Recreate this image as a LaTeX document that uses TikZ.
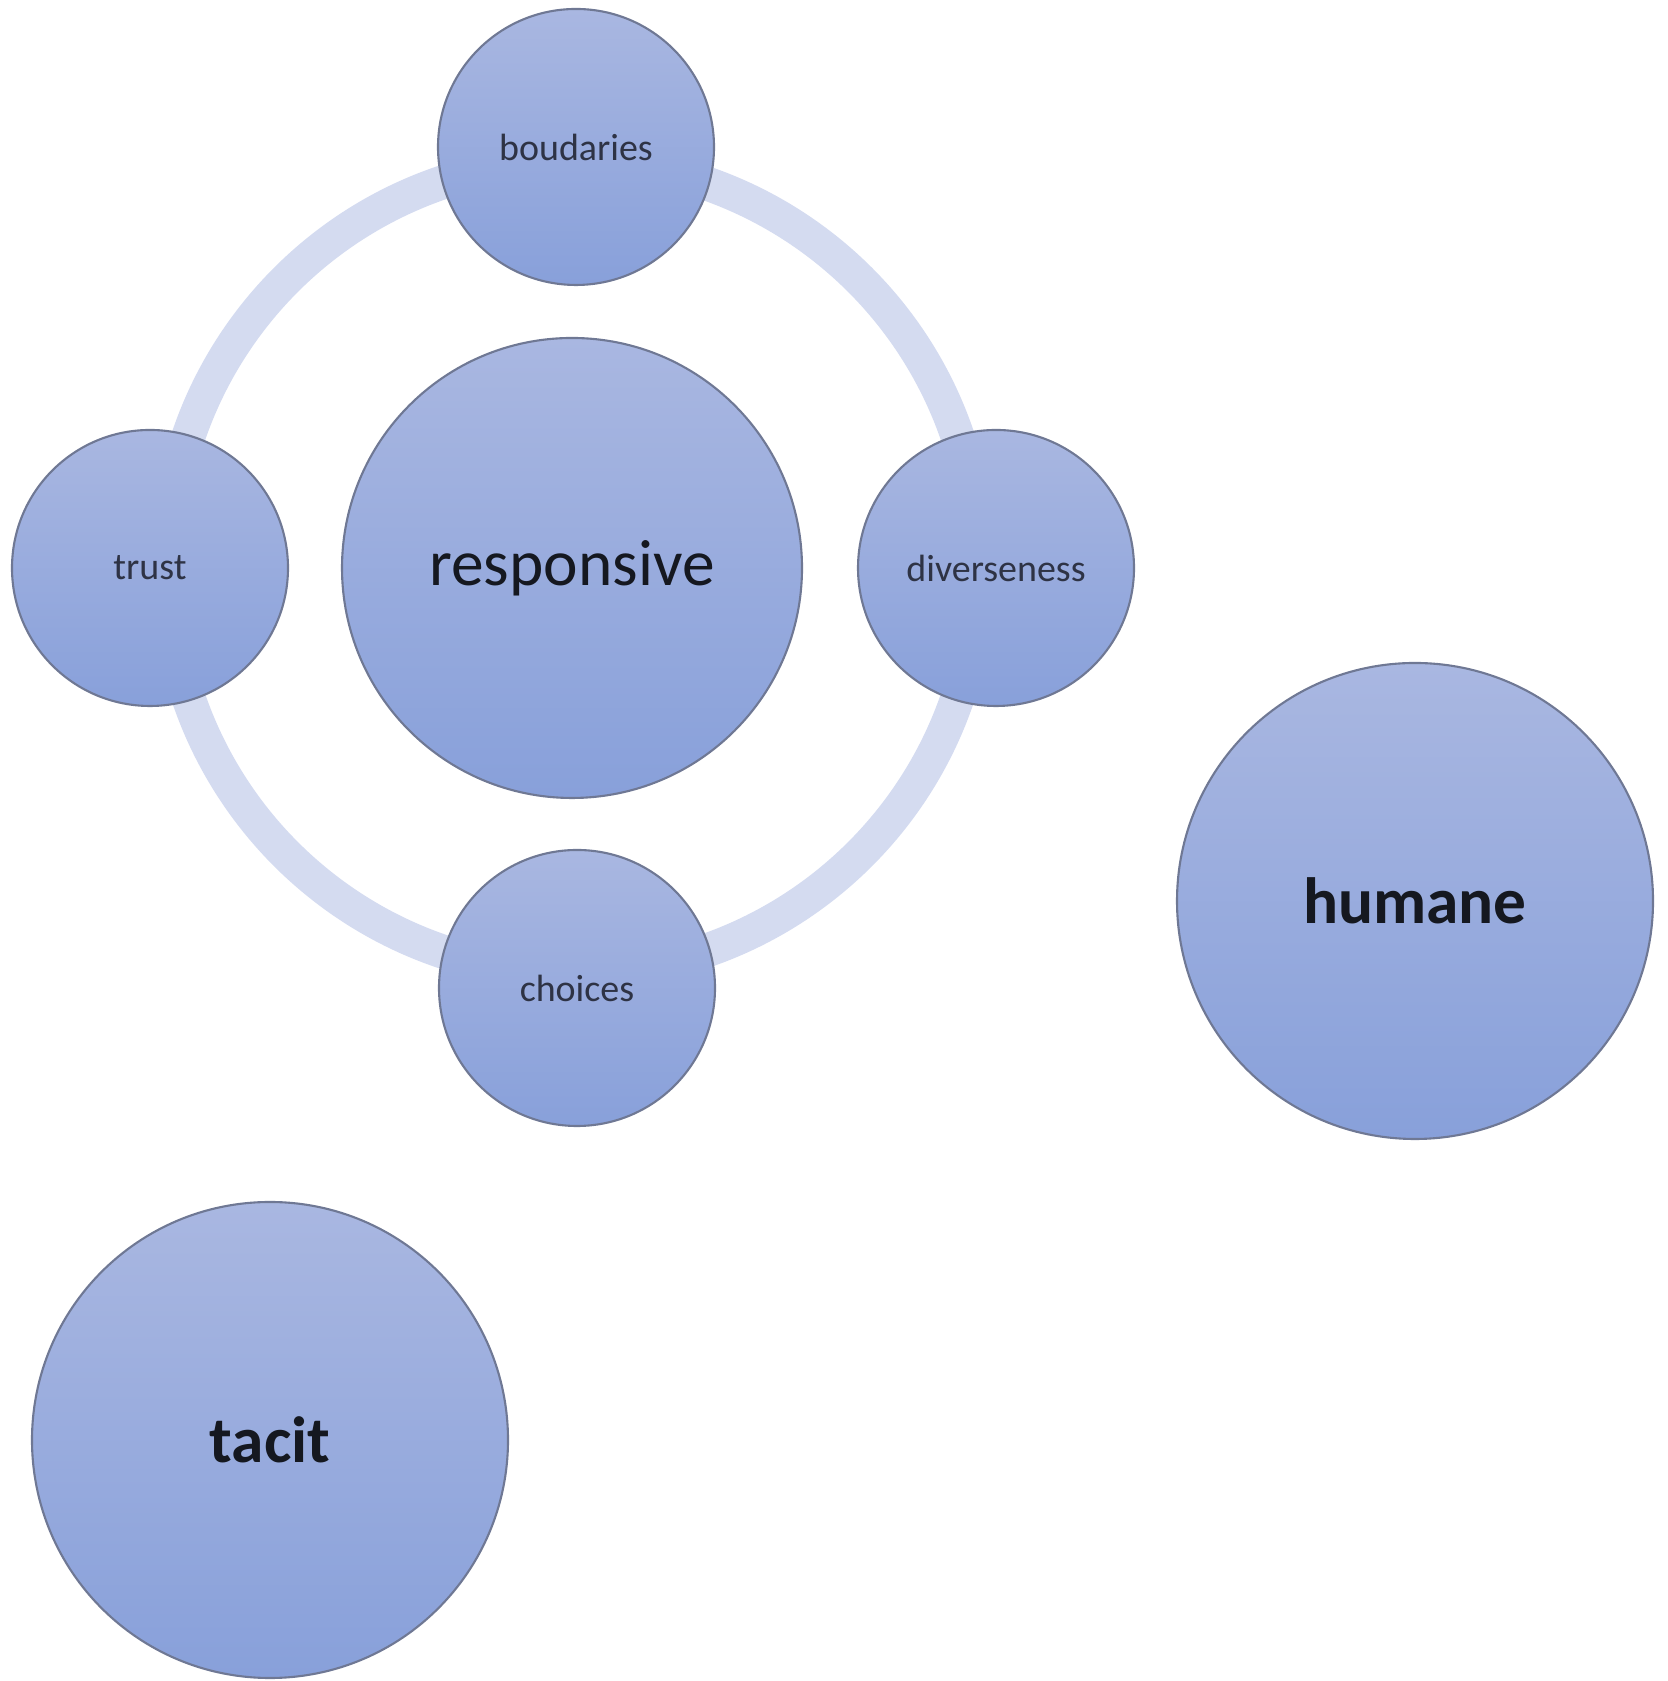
\documentclass[tikz,border=0pt]{standalone}
\usepackage{fontspec}
\setmainfont{Carlito}
\usepackage{xcolor}
\usepackage{tikz}

\definecolor{balltop}{HTML}{A9B7E1}
\definecolor{ballbot}{HTML}{88A0DA}
\definecolor{ballline}{HTML}{6F7894}
\definecolor{ringcol}{HTML}{D4DBF0}
\definecolor{spoketext}{HTML}{2E3345}
\definecolor{bigtext}{HTML}{151820}

\begin{document}
\begin{tikzpicture}[
	ball/.style={circle,draw=ballline,line width=0.6pt,top color=balltop,bottom color=ballbot,inner sep=0pt},
	spoke/.style={ball,minimum size=2.76cm,text=spoketext,font=\fontsize{10.8}{13}\selectfont},
	loner/.style={ball,minimum size=4.76cm,text=bigtext,font=\fontsize{18.6}{22}\selectfont\bfseries}]
	\useasboundingbox (0,0) rectangle (16.67,16.81);

	\coordinate (hub) at (5.73,11.14);
	\draw[ringcol,line width=0.34cm] (hub) circle (4.06);

	\node[ball,minimum size=4.6cm,text=bigtext,font=\fontsize{18.6}{22}\selectfont] (resp) at (5.72,11.13) {responsive};

	\node[spoke] (bound) at (5.76,15.34) {boudaries};
	\node[spoke] (trust) at (1.50,11.13) {trust};
	\node[spoke] (divers) at (9.96,11.13) {diverseness};
	\node[spoke] (choice) at (5.77,6.93) {choices};

	\node[loner] (humane) at (14.15,7.80) {humane};
	\node[loner] (tacit) at (2.70,2.41) {tacit};
\end{tikzpicture}
\end{document}
